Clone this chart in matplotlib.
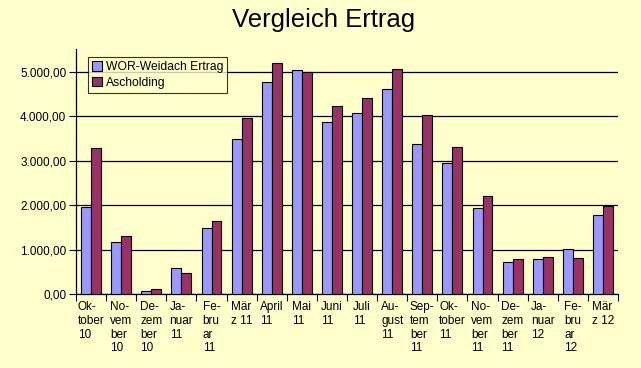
import numpy as np
import matplotlib
matplotlib.use("Agg")
import matplotlib.pyplot as plt

plt.rcParams["font.family"] = ["Liberation Sans", "DejaVu Sans"]

# Monate (Achsenbeschriftung wie im Original umbrochen)
months = ["Ok-\ntober\n10", "No-\nvem\nber\n10", "De-\nzem\nber\n10", "Ja-\nnuar\n11",
          "Fe-\nbru\nar\n11", "Mär\nz 11", "April\n11", "Mai\n11", "Juni\n11", "Juli\n11",
          "Au-\ngust\n11", "Sep-\ntem\nber\n11", "Ok-\ntober\n11", "No-\nvem\nber\n11",
          "De-\nzem\nber\n11", "Ja-\nnuar\n12", "Fe-\nbru\nar\n12", "Mär\nz 12"]

weidach = [1960, 1165, 60, 580, 1480, 3485, 4780, 5040, 3865, 4070,
           4630, 3370, 2945, 1930, 715, 780, 1005, 1780]
ascholding = [3300, 1300, 105, 465, 1635, 3955, 5195, 5010, 4225, 4405,
              5080, 4025, 3305, 2200, 780, 825, 805, 1990]

bg = "#FFFFCC"
fig = plt.figure(figsize=(6.41, 3.68), dpi=100, facecolor=bg)
ax = fig.add_axes([76 / 641, 1 - 294 / 368, 542 / 641, 245 / 368])
ax.set_facecolor(bg)

x = np.arange(len(months))
w = 0.33
ax.bar(x - w / 2, weidach, w, color="#9999FF", edgecolor="black", linewidth=0.8,
       label="WOR-Weidach Ertrag", zorder=3)
ax.bar(x + w / 2, ascholding, w, color="#993366", edgecolor="black", linewidth=0.8,
       label="Ascholding", zorder=3)

ax.set_xlim(-0.5, len(months) - 0.5)
ax.set_ylim(0, 5520)
ax.set_yticks(np.arange(0, 5001, 1000))
ax.set_yticklabels(["0,00", "1.000,00", "2.000,00", "3.000,00", "4.000,00", "5.000,00"],
                   fontsize=8.5)
ax.yaxis.grid(True, color="black", linewidth=0.9, zorder=1)

ax.set_xticks(x)
ax.set_xticklabels(months, fontsize=8.5, va="top", ha="center", multialignment="left",
                   linespacing=1.2)
ax.tick_params(axis="x", length=0, pad=5)
ax.set_xticks(np.arange(-0.5, len(months), 1), minor=True)
ax.tick_params(axis="x", which="minor", length=5, direction="out", width=0.8)
ax.tick_params(axis="y", length=5, direction="out", width=0.8, pad=2)

for s in ["top", "right"]:
    ax.spines[s].set_visible(False)
ax.spines["left"].set_linewidth(0.9)
ax.spines["bottom"].set_linewidth(0.9)

leg = ax.legend(loc="upper left", bbox_to_anchor=(12 / 542, 1 - 8 / 245), fontsize=8.7,
                frameon=True, fancybox=False, edgecolor="black", facecolor=bg,
                handlelength=0.8, handleheight=0.8, handletextpad=0.3,
                borderpad=0.35, labelspacing=0.3, borderaxespad=0)
leg.get_frame().set_linewidth(0.8)
leg.set_zorder(5)

fig.text(324 / 641, 1 - 20 / 368, "Vergleich Ertrag", fontsize=18.5, ha="center", va="center")

fig.savefig("out.png", dpi=100, facecolor=bg)
